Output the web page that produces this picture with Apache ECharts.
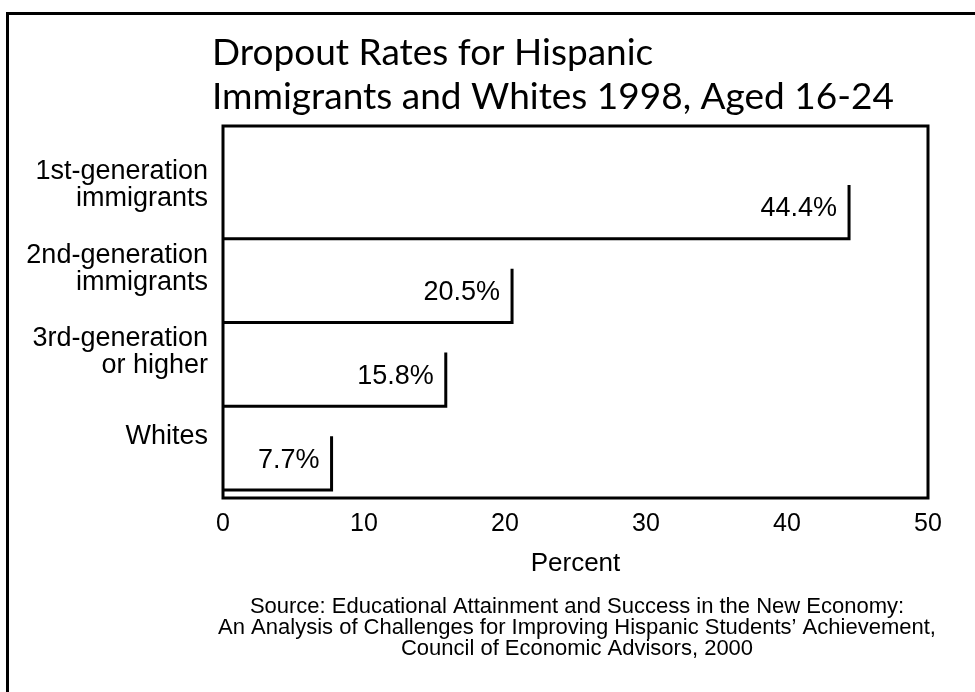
<!DOCTYPE html>
<html>
<head>
<meta charset="utf-8">
<script src="https://cdn.jsdelivr.net/npm/echarts@6/dist/echarts.min.js"></script>
<style>
  html, body { margin: 0; padding: 0; background: #fff; }
  #chart { width: 975px; height: 692px; }
</style>
</head>
<body>
<div id="chart"></div>
<script>
  // values
  var categories = ['1st-generation\nimmigrants', '2nd-generation\nimmigrants', '3rd-generation\nor higher', 'Whites']
  var rates = [44.4, 20.5, 15.8, 7.7]
  var rateLabels = ['44.4%', '20.5%', '15.8%', '7.7%']
  var xTicks = [0, 10, 20, 30, 40, 50]
  var sourceLines = [
    'Source: Educational Attainment and Success in the New Economy:',
    'An Analysis of Challenges for Improving Hispanic Students\u2019 Achievement,',
    'Council of Economic Advisors, 2000'
  ]

  var FONT = '"Liberation Sans", Arial, sans-serif'

  var chart = echarts.init(document.getElementById('chart'))

  var barData = rates.map(function (v, i) { return [v, i] })

  function renderBar(params, api) {
    var end = api.coord([api.value(0), api.value(1)])
    var start = api.coord([0, api.value(1)])
    var h = api.size([0, 1])[1] * 0.64
    var top = end[1] - h / 2
    var bottom = end[1] + h / 2
    return {
      type: 'group',
      children: [
        {
          type: 'polyline',
          shape: { points: [[end[0], top], [end[0], bottom], [start[0], bottom]] },
          style: { stroke: '#000', lineWidth: 3, fill: null }
        },
        {
          type: 'text',
          x: end[0] - 12,
          y: end[1] - 3,
          style: {
            text: rateLabels[params.dataIndex],
            align: 'right',
            verticalAlign: 'middle',
            fill: '#000',
            font: '27px ' + FONT
          }
        }
      ]
    }
  }

  var option = {
    backgroundColor: '#fff',
    animation: false,
    title: {
      text: 'Dropout Rates for Hispanic\nImmigrants and Whites 1998, Aged 16-24',
      left: 207,
      top: 26,
      textStyle: {
        fontFamily: 'Lato, sans-serif',
        fontWeight: 'normal',
        fontSize: 37,
        lineHeight: 44,
        color: '#000'
      }
    },
    grid: [
      // the framed plot box
      { left: 223, right: 47, top: 126, bottom: 194, show: true, borderColor: '#000', borderWidth: 3, backgroundColor: 'transparent' },
      // bars sit in their own band layout inside the box
      { left: 223, right: 47, top: 170, bottom: 187 }
    ],
    xAxis: [
      {
        gridIndex: 0,
        type: 'value',
        min: xTicks[0],
        max: xTicks[xTicks.length - 1],
        interval: 10,
        axisLine: { show: false },
        axisTick: { show: false },
        splitLine: { show: false },
        axisLabel: { color: '#000', fontSize: 25, fontFamily: FONT, margin: 14 },
        name: 'Percent',
        nameLocation: 'middle',
        nameGap: 53,
        nameTextStyle: { color: '#000', fontSize: 26, fontFamily: FONT }
      },
      {
        gridIndex: 1,
        type: 'value',
        min: 0,
        max: 50,
        show: false
      }
    ],
    yAxis: [
      { gridIndex: 0, type: 'value', show: false },
      {
        gridIndex: 1,
        type: 'category',
        inverse: true,
        data: categories,
        axisLine: { show: false },
        axisTick: { show: false },
        axisLabel: {
          interval: 0,
          hideOverlap: false,
          showMinLabel: true,
          showMaxLabel: true,
          color: '#000',
          fontSize: 27,
          lineHeight: 27,
          fontFamily: FONT,
          align: 'right',
          margin: 15,
          // labels sit above the bars: pad with two empty lines below
          formatter: function (v) { return v + '\n\n' }
        }
      }
    ],
    series: [
      {
        type: 'custom',
        xAxisIndex: 1,
        yAxisIndex: 1,
        renderItem: renderBar,
        encode: { x: 0, y: 1 },
        data: barData
      }
    ],
    graphic: [
      {
        type: 'rect',
        shape: { x: 7.5, y: 13.5, width: 990, height: 700 },
        style: { fill: null, stroke: '#000', lineWidth: 3 }
      },
      {
        type: 'text',
        x: 577,
        y: 596,
        style: {
          text: sourceLines.join('\n'),
          align: 'center',
          verticalAlign: 'top',
          font: '22px ' + FONT,
          lineHeight: 21,
          fill: '#000'
        }
      }
    ]
  }

  chart.setOption(option)
</script>
</body>
</html>
